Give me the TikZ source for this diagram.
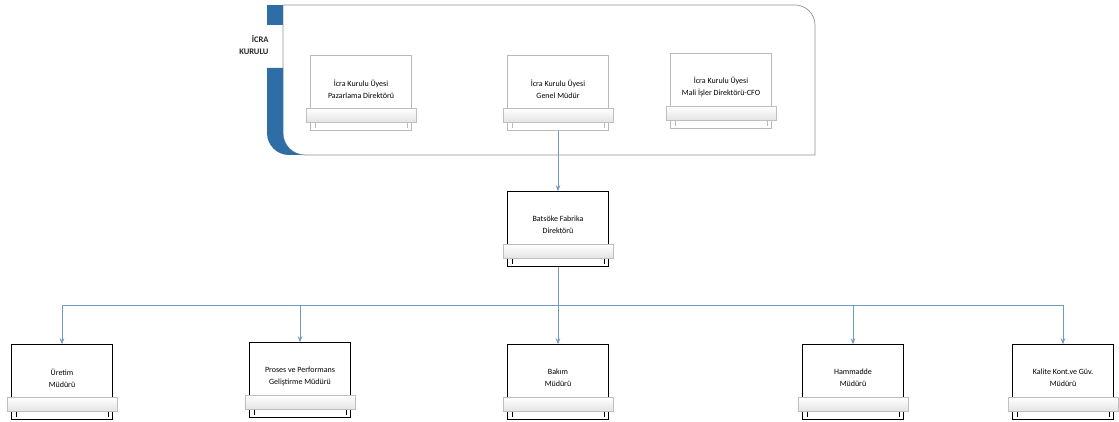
\documentclass[tikz,border=0pt]{standalone}
\usepackage{fontspec}
\setmainfont{Carlito}
\usetikzlibrary{arrows.meta}
\definecolor{linkblue}{HTML}{6F9BC3}
\definecolor{barblue}{HTML}{2F6DA6}

\begin{document}
\begin{tikzpicture}[x=1pt,y=1pt,
  font=\fontsize{8}{12}\selectfont,
  plaque/.style={minimum width=110pt, minimum height=67pt, inner sep=0pt, align=center, text=black},
  link/.style={linkblue, line width=0.8pt},
  arrow/.style={link, -{Stealth[length=6pt,width=4.5pt]}}]
\useasboundingbox (0,0) rectangle (1119,422);
% Board
\draw[gray!85, line width=0.7pt, fill=white] (283,417) -- (795,417) arc[start angle=90,end angle=0,radius=20] -- (815,267) -- (305,267) arc[start angle=270,end angle=180,radius=22] -- cycle;
\fill[barblue] (267,417) rectangle (283,397);
\fill[barblue] (267,354) -- (267,289) arc[start angle=180,end angle=270,radius=22] -- (305,267) arc[start angle=270,end angle=180,radius=22] -- (283,354) -- cycle;
\node[anchor=east, align=right, font=\bfseries\fontsize{8.5}{12}\selectfont, text=black!85] (board) at (272,377) {İCRA\\KURULU};
% Nodes
\node[plaque] (paz) at (361,333) {İcra Kurulu Üyesi\\Pazarlama Direktörü};
\node[plaque] (gm) at (558,333) {İcra Kurulu Üyesi\\Genel Müdür};
\node[plaque] (cfo) at (721,335) {İcra Kurulu Üyesi\\Mali İşler Direktörü-CFO};
\node[plaque] (fab) at (558,197) {Batsöke Fabrika\\Direktörü};
\node[plaque] (ure) at (62,44) {Üretim\\Müdürü};
\node[plaque] (pro) at (300,46) {Proses ve Performans\\Geliştirme Müdürü};
\node[plaque] (bak) at (558,44) {Bakım\\Müdürü};
\node[plaque] (ham) at (853,44) {Hammadde\\Müdürü};
\node[plaque] (kal) at (1063,44) {Kalite Kont.ve Güv.\\Müdürü};
% Plaques
\foreach \n/\c in {paz/gray!55,gm/gray!55,cfo/gray!55,fab/black,ure/black,pro/black,bak/black,ham/black,kal/black}{
  \draw[\c, line width=0.7pt] ([xshift=5pt]\n.north west) rectangle ([xshift=-5pt,yshift=14pt]\n.south east);
  \draw[\c, line width=0.7pt, fill=white] ([xshift=5pt]\n.south west) rectangle ([xshift=-5pt,yshift=-8pt]\n.south east);
  \draw[gray!50, top color=white, bottom color=gray!22] (\n.south west) rectangle ([yshift=14pt]\n.south east);
  \draw[\c] ([xshift=9pt]\n.south west) -- ++(0,-5pt) ([xshift=-9pt]\n.south east) -- ++(0,-5pt);
}
% Lines
\coordinate (bus) at (558,117);
\draw[arrow] ([yshift=-8pt]gm.south) -- (fab.north);
\draw[link] ([yshift=-8pt]fab.south) -- (bus);
\draw[link] (ure |- bus) -- (kal |- bus);
\foreach \n in {ure,pro,bak,ham,kal}
  \draw[arrow] (\n |- bus) -- (\n.north);
\end{tikzpicture}
\end{document}
